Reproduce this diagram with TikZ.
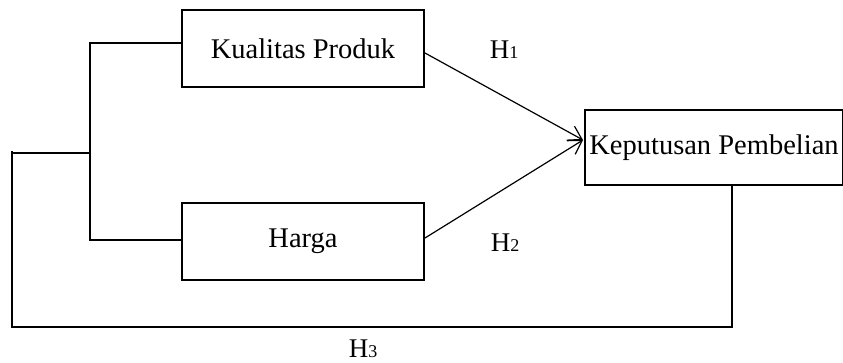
\documentclass[tikz,border=0pt]{standalone}
\usepackage{fontspec}
\setmainfont{Liberation Serif}
\usetikzlibrary{arrows.meta}
\newcommand{\hyp}[1]{H{\fontsize{18}{18}\selectfont #1}}
\begin{document}
\begin{tikzpicture}[x=1pt,y=1pt,
  varbox/.style={draw,line width=1.8pt,rectangle,inner sep=0pt,
    font=\fontsize{28.5}{31}\selectfont},
  link/.style={line width=1.2pt},
  arr/.style={line width=1.2pt,-{Straight Barb[length=13pt,width=16pt,line width=1.2pt]}},
  hlabel/.style={font=\fontsize{27}{30}\selectfont,inner sep=0pt}]
\useasboundingbox (0,0) rectangle (843,362);
\begin{scope}
\clip (0,0) rectangle (843,362);
% variable boxes
\node[varbox,minimum width=242pt,minimum height=77pt] (kp) at (303,313.5) {Kualitas Produk};
\node[varbox,minimum width=242pt,minimum height=77pt] (hg) at (303,120.5) {Harga};
\node[varbox,minimum width=258pt,minimum height=75pt,line width=2.2pt] (kb) at (714,214.5) {Keputusan Pembelian};
\end{scope}
% bracket joining the two independent variables
\coordinate (bt) at (90,319);
\coordinate (bb) at (90,122);
\coordinate (bm) at (90,209);
\draw[link] (bt -| kp.west) -- (bt) -- (bb) -- (bb -| hg.west);
% simultaneous path back to the dependent variable
\coordinate (lt) at (12,211);
\coordinate (lb) at (12,35);
\coordinate (rb) at (732,35);
\draw[link] (bm) -- (bm -| lt);
\draw[link] (lt) -- (lb) -- (rb) -- (rb |- kb.south);
% partial effects
\coordinate (tip) at (583,222);
\draw[arr] (425,309) -- (tip);
\draw[arr] (425,124) -- (tip);
% hypothesis labels
\node[hlabel] (h1) at (504,312) {\hyp{1}};
\node[hlabel] (h2) at (505,119) {\hyp{2}};
\node[hlabel] (h3) at (363,13) {\hyp{3}};
\end{tikzpicture}
\end{document}
